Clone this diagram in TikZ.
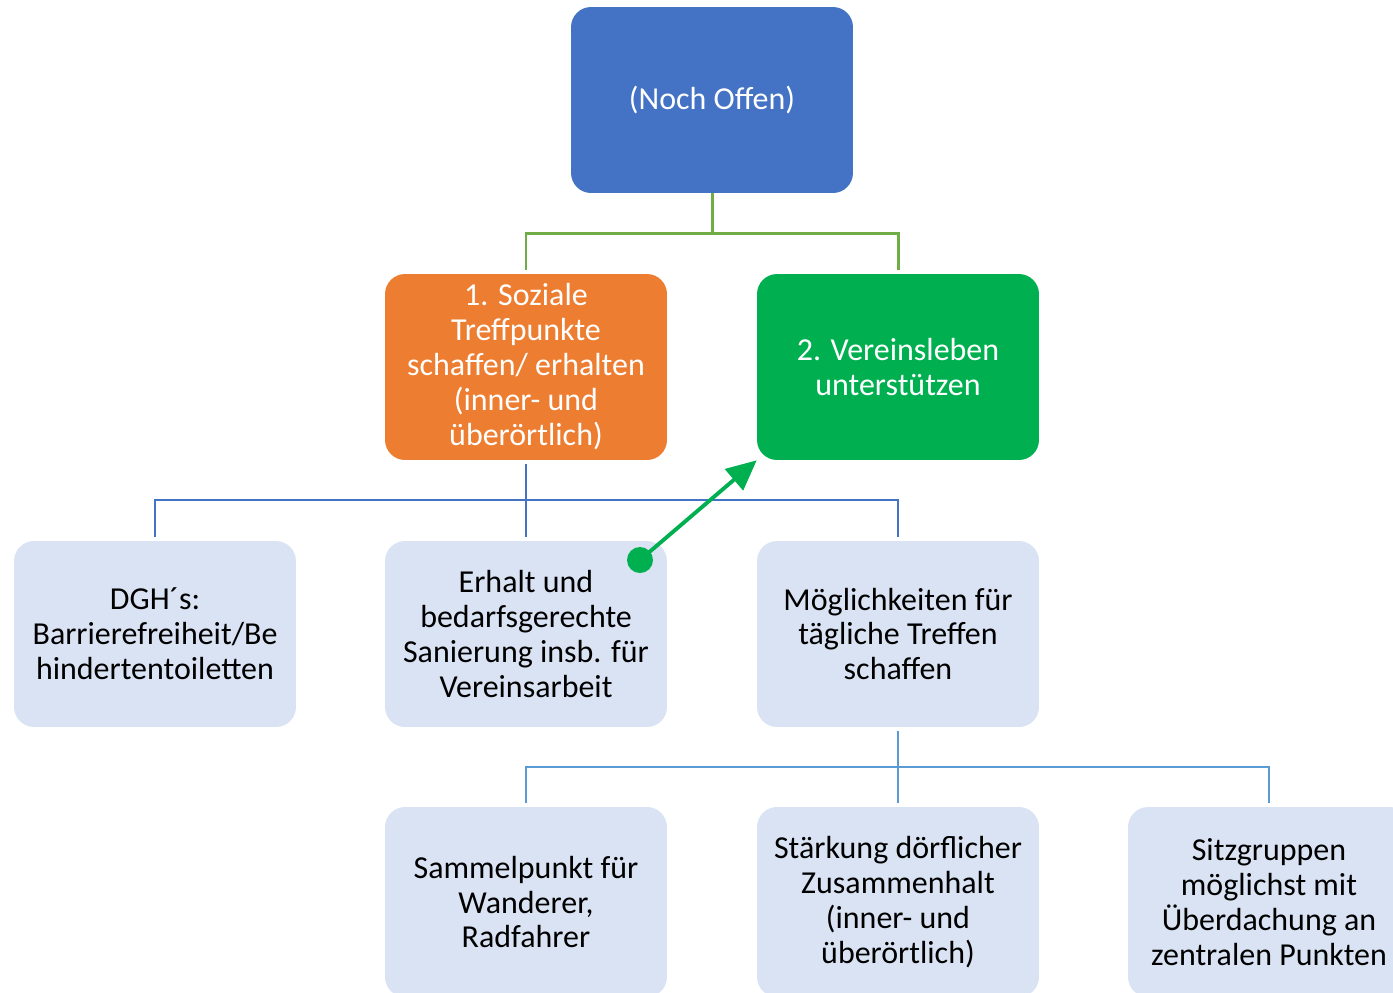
\documentclass[tikz,border=0pt]{standalone}
\usepackage{fontspec}
\setmainfont{Carlito}
\usetikzlibrary{arrows.meta}
\definecolor{boxblue}{HTML}{4472C4}
\definecolor{boxorange}{HTML}{ED7D31}
\definecolor{boxgreen}{HTML}{00B050}
\definecolor{boxlight}{HTML}{DAE3F3}
\definecolor{linegreen}{HTML}{70AD47}
\definecolor{linelight}{HTML}{5B9BD5}
\tikzset{
  card/.style={rounded corners=0.4cm, minimum width=5.64cm, minimum height=3.72cm,
    align=center, inner sep=0pt, font=\fontsize{18.2}{19.9}\selectfont},
  headcard/.style={card, fill=#1, text=white},
  subcard/.style={card, fill=boxlight, text=black},
}
\begin{document}
\begin{tikzpicture}[x=0.02cm,y=-0.02cm]
  \useasboundingbox (0,0) rectangle (1393,992);
  \begin{scope}
  \clip (0,0) rectangle (1393,992);
  % top level
  \node[headcard=boxblue] (top) at (712,100) {(Noch Offen)};
  % goals
  \node[headcard=boxorange] (soz) at (526,367) {1. Soziale\\Treffpunkte\\schaffen/ erhalten\\(inner- und\\überörtlich)};
  \node[headcard=boxgreen] (ver) at (898,367) {2. Vereinsleben\\unterstützen};
  % measures
  \node[subcard] (dgh) at (155,634) {DGH´s:\\Barrierefreiheit/Be\\hindertentoiletten};
  \node[subcard] (erh) at (526,634) {Erhalt und\\bedarfsgerechte\\Sanierung insb. für\\Vereinsarbeit};
  \node[subcard] (moeg) at (898,634) {Möglichkeiten für\\tägliche Treffen\\schaffen};
  % sub-measures
  \node[subcard, minimum height=3.8cm] (samm) at (526,902) {Sammelpunkt für\\Wanderer,\\Radfahrer};
  \node[subcard, minimum height=3.8cm] (staerk) at (898,902) {Stärkung dörflicher\\Zusammenhalt\\(inner- und\\überörtlich)};
  \node[subcard, minimum height=3.8cm] (sitz) at (1269,902) {Sitzgruppen\\möglichst mit\\Überdachung an\\zentralen Punkten};
  \end{scope}
  % connectors
  \draw[linegreen, line width=1.7pt, shorten >=2pt] (top.south) -- ++(0,40) -| (soz.north);
  \draw[linegreen, line width=1.7pt, shorten >=2pt] (top.south) -- ++(0,40) -| (ver.north);
  \draw[boxblue, line width=1.1pt, shorten <=2pt, shorten >=2pt] (soz.south) -- (erh.north);
  \draw[boxblue, line width=1.1pt, shorten >=2pt] (soz.south |- 0,500) -| (dgh.north);
  \draw[boxblue, line width=1.1pt, shorten >=2pt] (soz.south |- 0,500) -| (moeg.north);
  \draw[linelight, line width=0.6pt, shorten <=2pt, shorten >=2pt] (moeg.south) -- (staerk.north);
  \draw[linelight, line width=0.6pt, shorten >=2pt] (moeg.south |- 0,767) -| (samm.north);
  \draw[linelight, line width=0.6pt, shorten >=2pt] (moeg.south |- 0,767) -| (sitz.north);
  % cross link
  \coordinate (dot) at (640,560);
  \fill[boxgreen] (dot) circle (0.26cm);
  \draw[boxgreen, line width=2.2pt, -{Triangle[length=0.6cm,width=0.55cm]}] (dot) -- (ver.south west);
\end{tikzpicture}
\end{document}
